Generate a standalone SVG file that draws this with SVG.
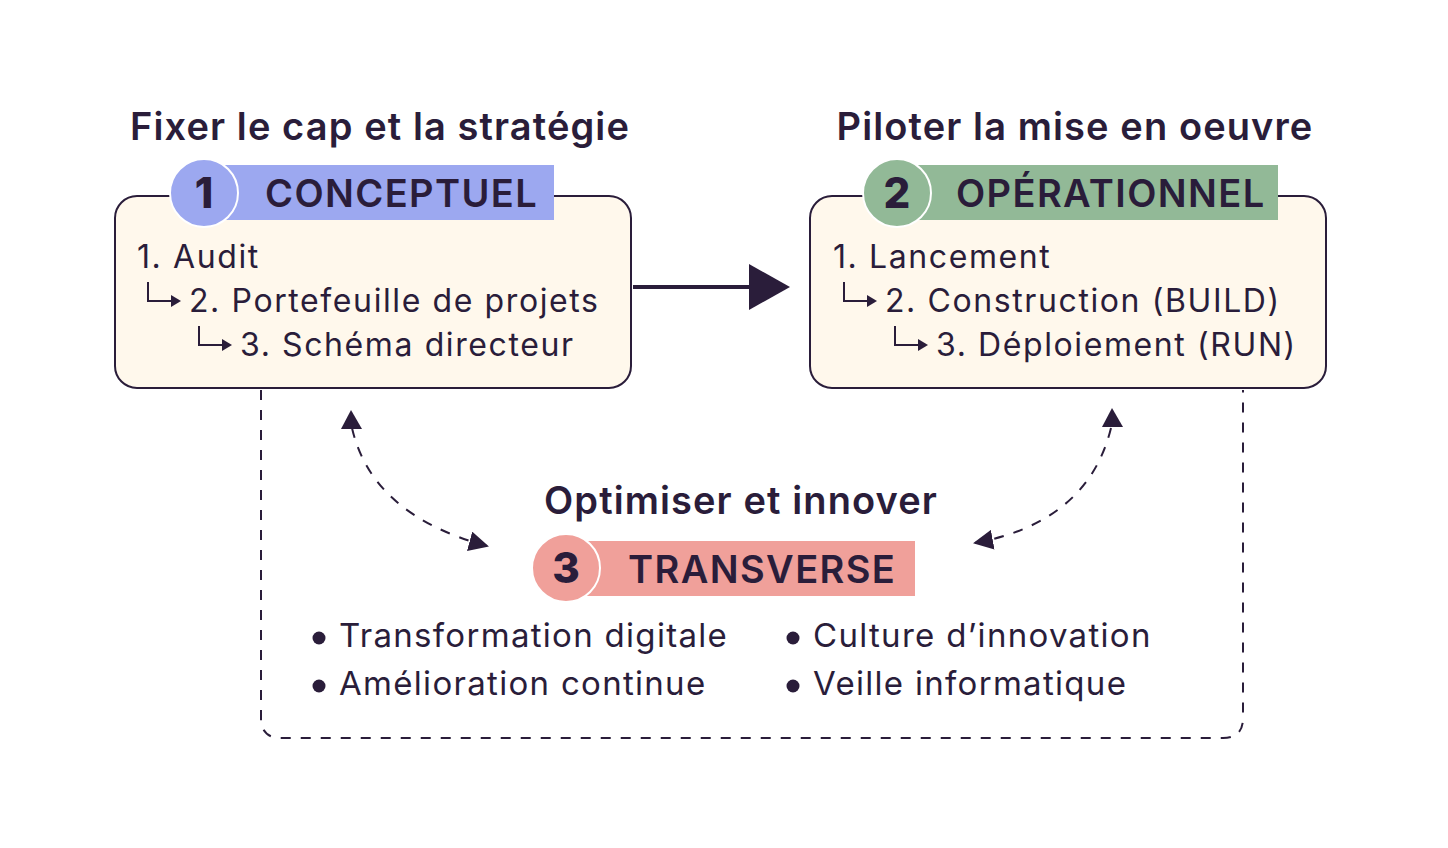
<svg xmlns="http://www.w3.org/2000/svg" width="1448" height="848" viewBox="0 0 1448 848">
<defs>
<style>
text{font-family:Inter,"Noto Sans","Liberation Sans",sans-serif;fill:#2a1d3a}
.title{font-size:38px;font-weight:600;letter-spacing:1.1px}
.badge{font-size:38px;font-weight:600;letter-spacing:1.4px}
.num{font-size:42px;font-weight:800;text-anchor:middle}
.item{font-size:32px;font-weight:400;letter-spacing:1.6px}
.bul{font-size:33px;font-weight:400;letter-spacing:1.3px}
.box{fill:#fff8ec;stroke:#2a1d3a;stroke-width:2}
.dash{fill:none;stroke:#2a1d3a;stroke-width:2;stroke-dasharray:10 10}
.sub{fill:none;stroke:#2a1d3a;stroke-width:2}
.ring{stroke:#ffffff;stroke-width:2}
</style>
<marker id="ah" viewBox="0 0 10 10" refX="9" refY="5" markerWidth="20" markerHeight="20" markerUnits="userSpaceOnUse" orient="auto">
<path d="M0,0 L10,5 L0,10 Z" fill="#2a1d3a"/>
</marker>
</defs>
<rect width="1448" height="848" fill="#ffffff"/>

<g id="connectors">
<path class="dash" d="M261,390 V718 Q261,738 281,738 H1223 Q1243,738 1243,718 V390"/>
<path d="M633,287 H752" stroke="#2a1d3a" stroke-width="4" fill="none"/>
<path d="M749,264 L790,287 L749,310 Z" fill="#2a1d3a"/>
<path class="dash" d="M352,428 Q372,515 487,546" marker-end="url(#ah)" stroke-dasharray="9 9" stroke-width="2.5"/>
<path d="M351,410 L341,429 L362,429 Z" fill="#2a1d3a"/>
<path class="dash" d="M1111,428 Q1088,522 975,543" marker-end="url(#ah)" stroke-dasharray="9 9" stroke-width="2.5"/>
<path d="M1112,408 L1102,427 L1123,427 Z" fill="#2a1d3a"/>
</g>

<g id="node-conceptuel">
<text class="title" x="380" y="140" text-anchor="middle">Fixer le cap et la stratégie</text>
<rect class="box" x="115" y="196" width="516" height="192" rx="22"/>
<rect x="222" y="165" width="332" height="55" fill="#9ca8f0"/>
<circle class="ring" cx="204" cy="193" r="34" fill="#9ca8f0"/>
<text class="num" x="204" y="208">1</text>
<text class="badge" x="265" y="207">CONCEPTUEL</text>
<text class="item" x="137" y="268">1. Audit</text>
<path class="sub" d="M148,282 V301 H172"/>
<path d="M171,295 L181,301 L171,307 Z" fill="#2a1d3a"/>
<text class="item" x="189" y="312">2. Portefeuille de projets</text>
<path class="sub" d="M199,326 V345 H223"/>
<path d="M222,339 L232,345 L222,351 Z" fill="#2a1d3a"/>
<text class="item" x="240" y="356">3. Schéma directeur</text>
</g>

<g id="node-operationnel">
<text class="title" x="1075" y="140" text-anchor="middle">Piloter la mise en oeuvre</text>
<rect class="box" x="810" y="196" width="516" height="192" rx="22"/>
<rect x="915" y="165" width="363" height="55" fill="#92b997"/>
<circle class="ring" cx="897" cy="193" r="34" fill="#92b997"/>
<text class="num" x="897" y="208">2</text>
<text class="badge" x="956" y="207">OPÉRATIONNEL</text>
<text class="item" x="833" y="268">1. Lancement</text>
<path class="sub" d="M844,282 V301 H868"/>
<path d="M867,295 L877,301 L867,307 Z" fill="#2a1d3a"/>
<text class="item" x="885" y="312">2. Construction (BUILD)</text>
<path class="sub" d="M895,326 V345 H919"/>
<path d="M918,339 L928,345 L918,351 Z" fill="#2a1d3a"/>
<text class="item" x="936" y="356">3. Déploiement (RUN)</text>
</g>

<g id="node-transverse">
<text class="title" x="741" y="514" text-anchor="middle">Optimiser et innover</text>
<rect x="585" y="541" width="330" height="55" fill="#f0a09a"/>
<circle class="ring" cx="566" cy="568" r="34" fill="#f0a09a"/>
<text class="num" x="566" y="583">3</text>
<text class="badge" x="628" y="583">TRANSVERSE</text>
<circle cx="319" cy="638" r="6.5" fill="#2a1d3a"/>
<text class="bul" x="339" y="647">Transformation digitale</text>
<circle cx="319" cy="686" r="6.5" fill="#2a1d3a"/>
<text class="bul" x="339" y="695">Amélioration continue</text>
<circle cx="793" cy="638" r="6.5" fill="#2a1d3a"/>
<text class="bul" x="813" y="647">Culture d’innovation</text>
<circle cx="793" cy="686" r="6.5" fill="#2a1d3a"/>
<text class="bul" x="813" y="695">Veille informatique</text>
</g>
</svg>
